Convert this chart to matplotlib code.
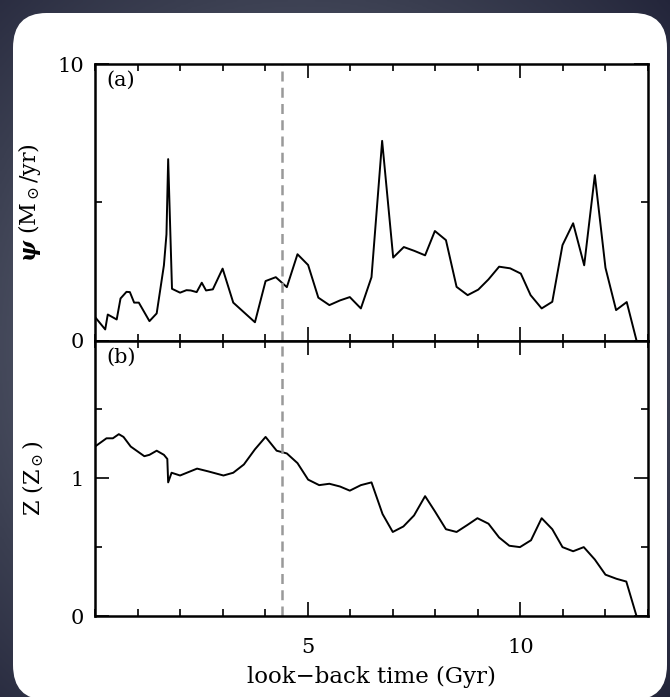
import numpy as np
import matplotlib.pyplot as plt
from matplotlib.patches import FancyBboxPatch
from matplotlib.colors import LinearSegmentedColormap
from matplotlib.ticker import MultipleLocator, FixedLocator

# star formation rate history
psi_t = [0.0, 0.24, 0.30, 0.51, 0.60, 0.74, 0.82, 0.92, 1.03, 1.28, 1.45, 1.62, 1.68, 1.72, 1.81,
         2.00, 2.15, 2.25, 2.39, 2.51, 2.61, 2.77, 3.00, 3.25, 3.76, 4.01, 4.25, 4.51, 4.76, 5.01,
         5.25, 5.51, 5.76, 5.99, 6.25, 6.50, 6.75, 7.01, 7.26, 7.51, 7.76, 7.99, 8.25, 8.50, 8.76,
         9.01, 9.25, 9.50, 9.76, 10.01, 10.24, 10.50, 10.75, 10.99, 11.24, 11.50, 11.75, 12.00,
         12.25, 12.50, 12.73]
psi = [0.85, 0.40, 0.94, 0.76, 1.52, 1.76, 1.75, 1.37, 1.37, 0.70, 0.98, 2.72, 3.84, 6.56, 1.87,
       1.73, 1.82, 1.81, 1.75, 2.09, 1.81, 1.85, 2.60, 1.37, 0.66, 2.15, 2.29, 1.93, 3.12, 2.73,
       1.55, 1.28, 1.45, 1.57, 1.16, 2.29, 7.22, 3.00, 3.38, 3.24, 3.08, 3.96, 3.63, 1.94, 1.64,
       1.84, 2.21, 2.67, 2.61, 2.42, 1.64, 1.16, 1.40, 3.45, 4.24, 2.72, 5.98, 2.63,
       1.10, 1.39, 0.0]

# metallicity history
Z_t = [0.0, 0.27, 0.42, 0.56, 0.67, 0.84, 1.16, 1.28, 1.45, 1.62, 1.70, 1.72, 1.80, 2.00, 2.40,
       2.66, 3.02, 3.25, 3.50, 3.76, 4.01, 4.27, 4.51, 4.76, 5.01, 5.27, 5.51, 5.76, 5.99, 6.25,
       6.50, 6.76, 7.00, 7.25, 7.50, 7.76, 7.99, 8.25, 8.50, 8.75, 8.99, 9.25, 9.50, 9.74, 9.99,
       10.25, 10.50, 10.75, 10.99, 11.24, 11.49, 11.75, 12.00, 12.26, 12.49, 12.73]
Z = [1.23, 1.29, 1.29, 1.32, 1.30, 1.23, 1.16, 1.17, 1.20, 1.17, 1.14, 0.97, 1.04, 1.02, 1.07,
     1.05, 1.02, 1.04, 1.10, 1.21, 1.30, 1.20, 1.18, 1.11, 0.99, 0.95, 0.96, 0.94, 0.91, 0.95,
     0.97, 0.74, 0.61, 0.65, 0.73, 0.87, 0.76, 0.63, 0.61, 0.66, 0.71, 0.67, 0.57, 0.51, 0.50,
     0.55, 0.71, 0.63, 0.50, 0.47, 0.50, 0.41, 0.30, 0.27, 0.25, 0.0]

t_mark = 4.4

plt.rcParams['font.family'] = 'DejaVu Serif'
plt.rcParams['mathtext.fontset'] = 'dejavuserif'

fig = plt.figure(figsize=(6.7, 6.97), dpi=100)

# dark vignette background + white card
bg = fig.add_axes([0, 0, 1, 1])
bg.axis('off')
yy, xx = np.mgrid[0:1:300j, 0:1:300j]
r = np.sqrt((xx - 0.45)**2 + (yy - 0.5)**2)
cm = LinearSegmentedColormap.from_list('bg', ['#555a6b', '#3a3e50', '#23253a'])
bg.imshow(r, cmap=cm, extent=[0, 1, 0, 1], aspect='auto', vmin=0.3, vmax=0.75, origin='lower')
bg.add_patch(FancyBboxPatch((13/670, -0.004), 654/670, 684/697 + 0.004,
                            boxstyle='round,pad=0,rounding_size=0.05',
                            fc='white', ec='none'))
bg.set_xlim(0, 1)
bg.set_ylim(0, 1)

ax1 = fig.add_axes([95/670, 356.5/697, 553/670, 276.5/697])
ax2 = fig.add_axes([95/670, 81/697, 553/670, 275.5/697])

ax1.plot(psi_t, psi, color='k', lw=1.4)
ax2.plot(Z_t, Z, color='k', lw=1.4)

for ax in (ax1, ax2):
    ax.axvline(t_mark, color='#999999', lw=1.8, ls=(0, (4, 2.5)))
    ax.set_xlim(0, 13)
    ax.xaxis.set_major_locator(FixedLocator([5, 10]))
    ax.xaxis.set_minor_locator(MultipleLocator(1))
    ax.tick_params(which='both', direction='in', top=True, right=True, width=1.2,
                   labelsize=15, pad=8)
    ax.tick_params(axis='x', pad=16)
    ax.tick_params(which='major', length=10)
    ax.tick_params(which='minor', length=5)
    for s in ax.spines.values():
        s.set_linewidth(1.8)

ax1.set_ylim(0, 10)
ax1.yaxis.set_major_locator(FixedLocator([0, 10]))
ax1.yaxis.set_minor_locator(FixedLocator([5]))
ax1.tick_params(axis='x', labelbottom=False)
ax1.set_ylabel(r'$\boldsymbol{\psi}$ (M$_\odot$/yr)', fontsize=16, labelpad=10)
ax1.text(0.02, 0.975, '(a)', transform=ax1.transAxes, va='top', ha='left', fontsize=15)

ax2.set_ylim(0, 2)
ax2.yaxis.set_major_locator(FixedLocator([0, 1, 2]))
ax2.set_yticklabels(['0', '1', ''])
ax2.yaxis.set_minor_locator(FixedLocator([0.5, 1.5]))
ax2.set_ylabel(r'Z (Z$_\odot$)', fontsize=16, labelpad=18)
ax2.set_xlabel('look\u2212back time (Gyr)', fontsize=16.5, labelpad=6)
ax2.text(0.02, 0.975, '(b)', transform=ax2.transAxes, va='top', ha='left', fontsize=15)

fig.savefig('out.png', dpi=100)
